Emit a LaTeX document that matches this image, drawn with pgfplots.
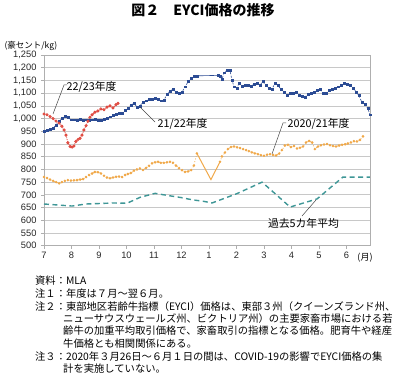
\documentclass[border=0pt]{standalone}
\usepackage{fontspec}
\setmainfont{Liberation Sans}
\newfontfamily\jp{Noto Sans CJK JP}
\usepackage{pgfplots}
\pgfplotsset{compat=1.18}
\definecolor{blu}{RGB}{44,76,148}
\definecolor{redc}{RGB}{224,72,62}
\definecolor{ora}{RGB}{240,168,72}
\definecolor{tea}{RGB}{62,150,150}
\definecolor{gridc}{RGB}{200,200,200}
\definecolor{boxc}{RGB}{175,175,175}
\definecolor{lead}{RGB}{70,70,70}
\begin{document}
\begin{tikzpicture}
\useasboundingbox (0pt,0pt) rectangle (400pt,384pt);
% title
\node[font=\jp\bfseries\fontsize{14}{16}\selectfont] at (203pt,374pt) {図２　EYCI価格の推移};
\node[font=\jp\fontsize{8.5}{10}\selectfont, anchor=west] at (1pt,338.5pt) {(豪セント/kg)};
\begin{axis}[
  at={(44pt,138.3pt)}, anchor=south west,
  scale only axis, width=326pt, height=190.7pt,
  xmin=0, xmax=11.855, ymin=500, ymax=1250,
  ytick={500,550,...,1250},
  xtick={0,1,2,3,4,5,6,7,8,9,10,11},
  xticklabels={7,8,9,10,11,12,1,2,3,4,5,6},
  ymajorgrids, grid style={gridc, line width=0.7pt},
  axis line style={boxc, line width=0.7pt},
  tick style={boxc, line width=0.6pt},
  tick align=outside, tick pos=left, major tick length=3pt,
  ticklabel style={font=\fontsize{9.3}{11}\selectfont, text=black!85},
  yticklabel style={xshift=-1pt},
  /pgf/number format/assume math mode=true,
  /pgf/number format/1000 sep={,},
  clip=false,
]
% past 5-year average
\addplot[tea, line width=1.4pt, dash pattern=on 5pt off 3.5pt] coordinates {
(0,664) (0.51,660) (1.02,656) (1.53,664) (2.04,666) (2.51,668) (3.02,667)
(3.49,690) (4.04,706) (4.47,698) (4.95,690) (5.42,680) (5.78,675) (6.11,668)
(7.02,705) (7.93,750) (8.40,705) (8.95,652) (9.93,684) (10.87,770) (11.85,770)};
% 2020/21
\addplot[ora, dotted, line width=0.8pt, mark=*, mark size=0.85pt, mark options={solid, fill=ora!70, draw=ora}] coordinates {
(0.00,770) (0.11,766) (0.22,760) (0.33,755) (0.44,750) (0.55,745) (0.65,750) (0.76,755)
(0.87,758) (0.98,756) (1.09,757) (1.20,758) (1.31,760) (1.42,762) (1.53,770) (1.64,778)
(1.75,784) (1.85,790) (1.96,789) (2.07,784) (2.18,775) (2.29,768) (2.40,765) (2.51,768)
(2.62,771) (2.73,772) (2.84,770) (2.95,778) (3.05,782) (3.16,786) (3.27,795) (3.38,800)
(3.49,804) (3.60,798) (3.71,806) (3.82,814) (3.93,824) (4.04,828) (4.15,830) (4.25,826)
(4.36,826) (4.47,828) (4.58,830) (4.69,826) (4.80,815) (4.91,805) (5.02,797) (5.13,790)
(5.24,792) (5.35,797) (5.45,815) (5.56,863)};
\addplot[ora, line width=1pt] coordinates {(5.56,863) (6.07,760) (6.40,830)};
\addplot[ora, dotted, line width=0.8pt, mark=*, mark size=0.85pt, mark options={solid, fill=ora!70, draw=ora}] coordinates {
(6.40,830) (6.47,851) (6.58,866) (6.69,880) (6.80,888) (6.91,890) (7.02,887) (7.13,884)
(7.24,880) (7.35,876) (7.45,872) (7.56,867) (7.67,863) (7.78,860) (7.89,856) (8.00,854)
(8.11,858) (8.22,860) (8.33,857) (8.44,855) (8.55,862) (8.65,876) (8.76,894) (8.87,897)
(8.98,888) (9.09,892) (9.20,882) (9.31,885) (9.42,890) (9.53,906) (9.64,912) (9.75,906)
(9.85,880) (9.96,890) (10.07,895) (10.18,898) (10.29,900) (10.40,895) (10.51,892) (10.62,890)
(10.73,894) (10.84,897) (10.95,899) (11.05,902) (11.16,906) (11.27,911) (11.38,910) (11.49,916)
(11.60,930)};
% 21/22
\addplot[blu, line width=0.6pt, dash pattern=on 2pt off 1.5pt, mark=square*, mark size=0.95pt, mark options={solid}] coordinates {
(0.00,950) (0.11,955) (0.22,958) (0.33,962) (0.44,975) (0.55,990) (0.65,1000) (0.76,1008)
(0.87,1005) (0.98,995) (1.09,995) (1.20,992) (1.31,998) (1.42,993) (1.53,995) (1.64,992)
(1.75,995) (1.85,998) (1.96,992) (2.07,993) (2.18,996) (2.29,1000) (2.40,1007) (2.51,1012)
(2.62,1017) (2.73,1022) (2.84,1020) (2.95,1033) (3.05,1040) (3.16,1053) (3.27,1060) (3.38,1046)
(3.49,1050) (3.60,1065) (3.71,1070) (3.82,1075) (3.93,1075) (4.04,1078) (4.15,1076) (4.25,1070)
(4.36,1072) (4.47,1095) (4.58,1108) (4.69,1115) (4.80,1105) (4.91,1100) (5.02,1105) (5.13,1125)
(5.24,1145) (5.35,1160) (5.45,1165) (5.56,1168)};
\addplot[blu, line width=0.6pt] coordinates {(5.56,1168) (6.33,1170)};
\addplot[blu, line width=0.6pt, dash pattern=on 2pt off 1.5pt, mark=square*, mark size=0.95pt, mark options={solid}] coordinates {
(6.33,1170) (6.40,1165) (6.47,1155) (6.55,1180) (6.65,1190) (6.76,1190) (6.84,1150) (6.91,1125)
(7.02,1120) (7.09,1140) (7.20,1128) (7.31,1130) (7.42,1132) (7.53,1128) (7.64,1135) (7.75,1140)
(7.85,1132) (7.96,1145) (8.07,1130) (8.18,1120) (8.29,1115) (8.40,1140) (8.51,1130) (8.62,1115)
(8.73,1105) (8.84,1090) (8.95,1098) (9.05,1100) (9.16,1102) (9.27,1092) (9.38,1088) (9.49,1085)
(9.60,1095) (9.71,1100) (9.82,1105) (9.93,1110) (10.04,1115) (10.15,1100) (10.25,1098) (10.36,1110)
(10.47,1115) (10.58,1118) (10.69,1125) (10.80,1130) (10.91,1140) (11.02,1135) (11.13,1130) (11.24,1120)
(11.35,1105) (11.45,1090) (11.56,1065) (11.67,1055) (11.78,1040) (11.85,1015)};
% 22/23
\addplot[redc, line width=0.8pt, densely dotted, mark=*, mark size=1.15pt, mark options={solid, fill=redc!65, draw=redc}] coordinates {
(0.00,1018) (0.11,1015) (0.22,1008) (0.33,1000) (0.44,990) (0.55,982) (0.65,970) (0.73,955)
(0.80,935) (0.87,905) (0.95,890) (1.02,888) (1.09,892) (1.16,910) (1.24,918) (1.31,922)
(1.38,935) (1.45,955) (1.53,972) (1.60,990) (1.67,1005) (1.75,1015) (1.85,1025) (1.96,1030)
(2.07,1038) (2.18,1035) (2.29,1045) (2.40,1050) (2.51,1042) (2.62,1055) (2.69,1060)};
\end{axis}
% x unit
\node[font=\jp\fontsize{9}{10}\selectfont] at (365pt,126pt) {(月)};
% series labels and leaders
\node[font=\jp\fontsize{10.8}{12}\selectfont] at (91.5pt,297pt) {22/23年度};
\draw[lead, line width=0.5pt] (67pt,299pt) -- (64pt,299pt) -- (53pt,270pt);
\node[font=\jp\fontsize{10.8}{12}\selectfont] at (182.5pt,260.5pt) {21/22年度};
\draw[lead, line width=0.5pt] (155pt,262pt) -- (140pt,277pt);
\node[font=\jp\fontsize{10.8}{12}\selectfont] at (318.5pt,260pt) {2020/21年度};
\draw[lead, line width=0.5pt] (286pt,261pt) -- (283pt,261pt) -- (272pt,230pt);
\node[font=\jp\fontsize{10.8}{12}\selectfont] at (303.5pt,160.5pt) {過去5カ年平均};
\draw[lead, line width=0.5pt] (302pt,168pt) -- (316pt,184pt);
% notes
\begin{scope}[every node/.style={anchor=base west, inner sep=0pt, font=\jp\fontsize{10.3}{12}\selectfont}]
\node at (35pt,99.5pt) {資料：MLA};
\node at (35pt,86.9pt) {注１：年度は７月～翌６月。};
\node at (35pt,73.5pt) {注２：東部地区若齢牛指標（EYCI）価格は、東部３州（クイーンズランド州、};
\node at (63pt,61.9pt) {ニューサウスウェールズ州、ビクトリア州）の主要家畜市場における若};
\node at (63pt,49.5pt) {齢牛の加重平均取引価格で、家畜取引の指標となる価格。肥育牛や経産};
\node at (63pt,36.9pt) {牛価格とも相関関係にある。};
\node at (35pt,23.5pt) {注３：2020年３月26日～６月１日の間は、COVID-19の影響でEYCI価格の集};
\node at (63pt,11.9pt) {計を実施していない。};
\end{scope}
\end{tikzpicture}
\end{document}
